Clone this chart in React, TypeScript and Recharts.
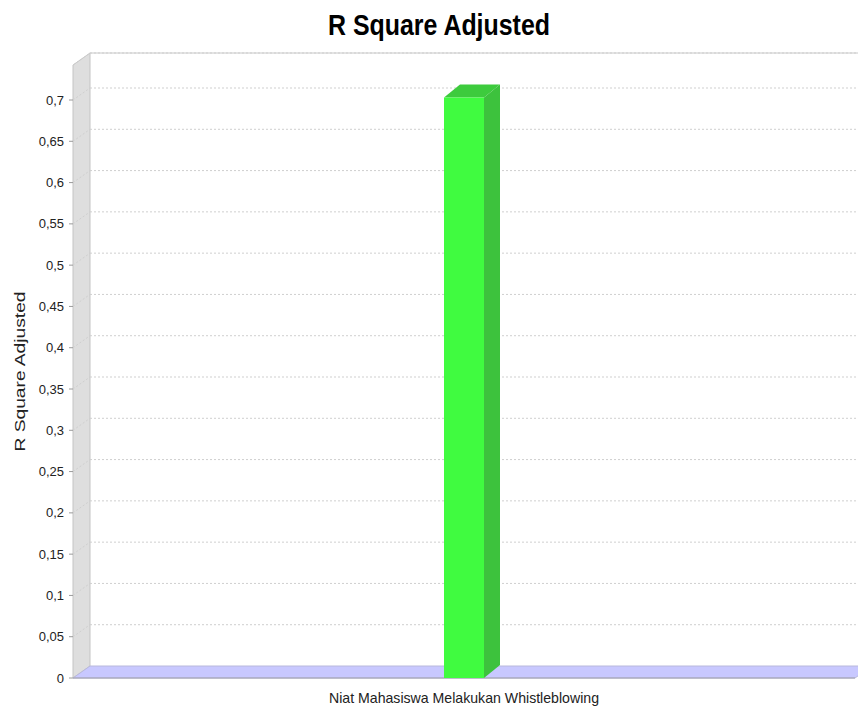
import { Bar, BarChart, CartesianGrid, XAxis, YAxis } from "recharts";

const categories = ["Niat Mahasiswa Melakukan Whistleblowing"];
const rSquareAdjusted = [0.703];
const yTicks = [0, 0.05, 0.1, 0.15, 0.2, 0.25, 0.3, 0.35, 0.4, 0.45, 0.5, 0.55, 0.6, 0.65, 0.7];
const yMax = 0.7424;

const data = categories.map((name, i) => ({ name, value: rSquareAdjusted[i] }));

const FONT = "'Liberation Sans', Arial, sans-serif";
// 3d depth of the walls / floor
const DX = 17;
const DY = 12;

// draws the walls + floor once, then each dashed grid line on the back wall
function GridLine3D(props: any) {
    const { x1, y1, x2, index, y, height } = props;
    const top = y;
    const bottom = y + height;
    const walls =
        index === 0 ? (
            <g>
                <polygon
                    points={`${x1},${bottom} ${x1},${top} ${x1 + DX},${top - DY} ${x1 + DX},${bottom - DY}`}
                    fill="#dedede"
                    stroke="#c4c4c4"
                />
                <line x1={x1 + DX} y1={top - DY} x2={x2 + DX} y2={top - DY} stroke="#c8c8c8" />
                <polygon
                    points={`${x1},${bottom} ${x2},${bottom} ${x2 + DX},${bottom - DY} ${x1 + DX},${bottom - DY}`}
                    fill="#c8c8ff"
                    stroke="#b8b8dc"
                />
                <line x1={x1} y1={bottom} x2={x2} y2={bottom} stroke="#a0a0ac" />
            </g>
        ) : null;
    const isFloor = Math.abs(y1 - bottom) < 1;
    return (
        <g key={`grid-${index}`}>
            {walls}
            {!isFloor && (
                <g stroke="#cfcfcf" strokeDasharray="2 2" fill="none">
                    <line x1={x1} y1={y1} x2={x1 + DX} y2={y1 - DY} />
                    <line x1={x1 + DX} y1={y1 - DY} x2={x2 + DX} y2={y1 - DY} />
                </g>
            )}
        </g>
    );
}

function Bar3D(props: any) {
    const { x, y, width, height } = props;
    const bx = 16;
    const by = 13;
    return (
        <g>
            <polygon
                points={`${x},${y} ${x + bx},${y - by} ${x + width + bx},${y - by} ${x + width},${y}`}
                fill="#3dcb3d"
            />
            <polygon
                points={`${x + width},${y} ${x + width + bx},${y - by} ${x + width + bx},${y + height - by} ${x + width},${y + height}`}
                fill="#3dc23d"
            />
            <rect x={x} y={y} width={width} height={height} fill="#40fb40" />
        </g>
    );
}

function CategoryTick(props: any) {
    const { x, y, payload } = props;
    return (
        <text
            x={x}
            y={y + 25}
            textAnchor="middle"
            fontFamily={FONT}
            fontSize={15}
            fill="#222"
            textLength={270}
            lengthAdjust="spacingAndGlyphs"
        >
            {payload.value}
        </text>
    );
}

function YLabel({ viewBox }: any) {
    const cx = viewBox.x + 20;
    const cy = viewBox.y + viewBox.height / 2;
    return (
        <text
            x={cx}
            y={cy}
            transform={`rotate(-90, ${cx}, ${cy})`}
            textAnchor="middle"
            dominantBaseline="central"
            fontFamily={FONT}
            fontSize={14}
            fill="#222"
            textLength={160}
            lengthAdjust="spacingAndGlyphs"
        >
            R Square Adjusted
        </text>
    );
}

export default function App() {
    return (
        <div style={{ position: "absolute", left: 0, top: 0, width: 858, height: 711, background: "#fff" }}>
            <svg width={858} height={50} style={{ position: "absolute", left: 0, top: 0 }}>
                <text
                    x={439}
                    y={35}
                    textAnchor="middle"
                    fontFamily={FONT}
                    fontWeight="bold"
                    fontSize={30}
                    fill="#000"
                    textLength={222}
                    lengthAdjust="spacingAndGlyphs"
                >
                    R Square Adjusted
                </text>
            </svg>
            <BarChart width={858} height={711} data={data} margin={{ top: 65, right: 3, bottom: 0, left: 0 }}>
                <CartesianGrid vertical={false} horizontal={(p: any) => <GridLine3D {...p} />} />
                <XAxis
                    dataKey="name"
                    height={33}
                    axisLine={false}
                    tickLine={false}
                    tickSize={0}
                    tickMargin={0}
                    tick={<CategoryTick />}
                />
                <YAxis
                    width={73}
                    domain={[0, yMax]}
                    ticks={yTicks}
                    interval={0}
                    allowDataOverflow
                    axisLine={false}
                    tickSize={4}
                    tickMargin={5}
                    tickLine={{ stroke: "#9a9a9a" }}
                    tick={{ fill: "#222", fontSize: 13, fontFamily: FONT }}
                    tickFormatter={(v: number) => String(v).replace(".", ",")}
                    label={<YLabel />}
                />
                <Bar dataKey="value" barSize={40} shape={<Bar3D />} isAnimationActive={false} />
            </BarChart>
        </div>
    );
}
